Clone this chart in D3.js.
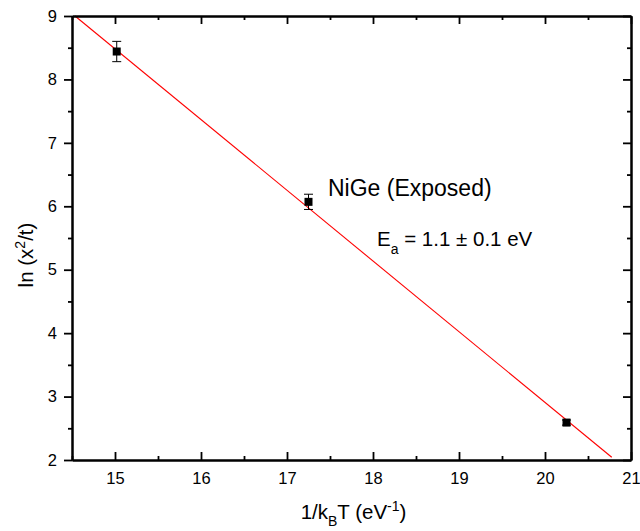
<!DOCTYPE html>
<html><head><meta charset="utf-8">
<script src="https://cdn.jsdelivr.net/npm/d3@7"></script>
<style>body{margin:0;background:#fff}svg{display:block}text{font-family:"Liberation Sans",Arial,sans-serif}</style>
</head><body>
<svg id="c" width="640" height="531"></svg>
<script>
// data
const xVals = [15.02, 17.25, 20.25];
const yVals = [8.44, 6.07, 2.59];
const yErr = [0.16, 0.12, 0.04];
const fitX = [14.535, 20.776];
const fitY = [9.0, 2.043];
const xMajor = [15, 16, 17, 18, 19, 20, 21];
const yMajor = [2, 3, 4, 5, 6, 7, 8, 9];
const xMinor = [14.5, 15.5, 16.5, 17.5, 18.5, 19.5, 20.5];
const yMinor = [2.5, 3.5, 4.5, 5.5, 6.5, 7.5, 8.5];

const svg = d3.select("#c");
const L = 72, R = 631, T = 16, B = 460;
const x = d3.scaleLinear().domain([14.5, 21]).range([L, R]);
const y = d3.scaleLinear().domain([2, 9]).range([B, T]);

// fit line
svg.append("line")
  .attr("x1", x(fitX[0])).attr("y1", y(fitY[0]))
  .attr("x2", x(fitX[1])).attr("y2", y(fitY[1]))
  .attr("stroke", "#ff0000").attr("stroke-width", 1.1);

// axes
function ax(gen, tr) {
  const g = svg.append("g").attr("transform", tr).call(gen);
  g.selectAll("path.domain").attr("stroke", "#000").attr("stroke-width", 2);
  g.selectAll(".tick line").attr("stroke", "#000").attr("stroke-width", 1.8);
  g.selectAll("text").attr("font-size", 16.5).attr("fill", "#000");
  return g;
}
ax(d3.axisBottom(x).tickValues(xMajor).tickSize(-8).tickSizeOuter(0).tickPadding(12).tickFormat(d3.format("d")), `translate(0,${B})`);
ax(d3.axisBottom(x).tickValues(xMinor).tickSize(-4).tickSizeOuter(0).tickFormat(""), `translate(0,${B})`);
ax(d3.axisTop(x).tickValues(xMajor).tickSize(-8).tickSizeOuter(0).tickFormat(""), `translate(0,${T})`);
ax(d3.axisTop(x).tickValues(xMinor).tickSize(-4).tickSizeOuter(0).tickFormat(""), `translate(0,${T})`);
ax(d3.axisLeft(y).tickValues(yMajor).tickSize(8).tickSizeOuter(0).tickPadding(7).tickFormat(d3.format("d")), `translate(${L},0)`);
ax(d3.axisLeft(y).tickValues(yMinor).tickSize(4).tickSizeOuter(0).tickFormat(""), `translate(${L},0)`);
ax(d3.axisRight(y).tickValues(yMajor).tickSize(-8).tickSizeOuter(0).tickFormat(""), `translate(${R},0)`);
ax(d3.axisRight(y).tickValues(yMinor).tickSize(-4).tickSizeOuter(0).tickFormat(""), `translate(${R},0)`);

// error bars
const pts = xVals.map((v, i) => ({x: v, y: yVals[i], e: yErr[i]}));
const eb = svg.append("g").attr("stroke", "#000").attr("stroke-width", 1);
pts.forEach(p => {
  const cx = x(p.x);
  eb.append("line").attr("x1", cx).attr("x2", cx).attr("y1", y(p.y + p.e)).attr("y2", y(p.y - p.e));
  eb.append("line").attr("x1", cx - 4.5).attr("x2", cx + 4.5).attr("y1", y(p.y + p.e)).attr("y2", y(p.y + p.e));
  eb.append("line").attr("x1", cx - 4.5).attr("x2", cx + 4.5).attr("y1", y(p.y - p.e)).attr("y2", y(p.y - p.e));
});
svg.append("g").selectAll("rect").data(pts).join("rect")
  .attr("x", d => x(d.x) - 4).attr("y", d => y(d.y) - 4)
  .attr("width", 8).attr("height", 8).attr("fill", "#000");

// annotations
svg.append("text").attr("x", 328).attr("y", 196).attr("font-size", 23).text("NiGe (Exposed)");
const ea = svg.append("text").attr("x", 377).attr("y", 246).attr("font-size", 20.5);
ea.append("tspan").text("E");
ea.append("tspan").attr("font-size", 14).attr("dy", 8).text("a");
ea.append("tspan").attr("dy", -8).text(" = 1.1 \u00b1 0.1 eV");

// axis titles
const xt = svg.append("text").attr("x", (L + R) / 2 + 2).attr("y", 519).attr("text-anchor", "middle").attr("font-size", 20.5);
xt.append("tspan").text("1/k");
xt.append("tspan").attr("font-size", 14).attr("dy", 7).text("B");
xt.append("tspan").attr("dy", -7).text("T (eV");
xt.append("tspan").attr("font-size", 14).attr("dy", -8).text("-1");
xt.append("tspan").attr("dy", 8).text(")");

const yt = svg.append("text").attr("transform", "translate(33,255) rotate(-90)").attr("text-anchor", "middle").attr("font-size", 20.5);
yt.append("tspan").text("ln (x");
yt.append("tspan").attr("font-size", 14).attr("dy", -8).text("2");
yt.append("tspan").attr("dy", 8).text("/t)");
</script>
</body></html>
